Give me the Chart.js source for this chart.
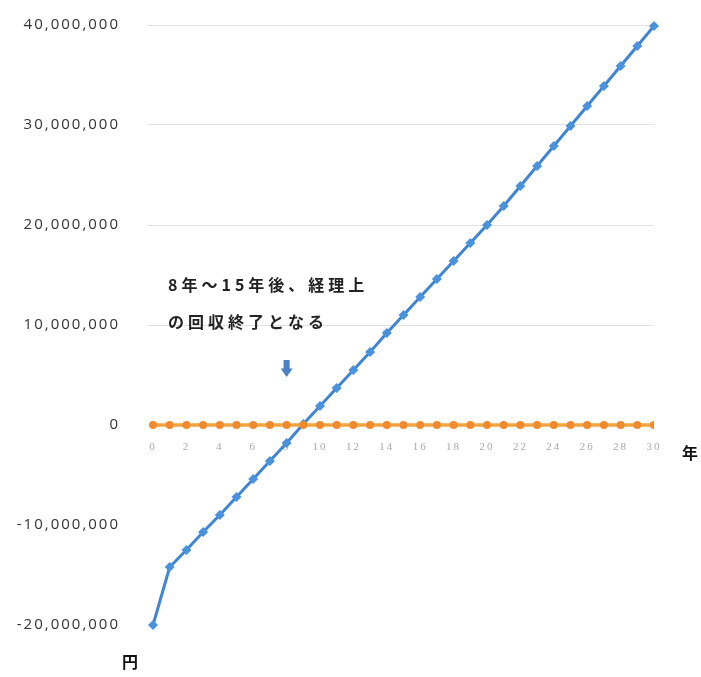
<!DOCTYPE html>
<html>
<head>
<meta charset="utf-8">
<script src="https://cdn.jsdelivr.net/npm/chart.js@4.4.1/dist/chart.umd.min.js"></script>
<style>
  html, body { margin: 0; padding: 0; background: #fff; }
  #wrap { width: 701px; height: 677px; position: relative; }
</style>
</head>
<body>
<div id="wrap"><canvas id="chart" width="701" height="677"></canvas></div>
<script>
const years = [0,1,2,3,4,5,6,7,8,9,10,11,12,13,14,15,16,17,18,19,20,21,22,23,24,25,26,27,28,29,30];
const cumulative = [
  -20000000, -14200000, -12500000, -10700000, -9000000, -7200000, -5400000, -3600000,
  -1800000, 100000, 1900000, 3700000, 5500000, 7300000, 9200000, 11000000,
  12800000, 14600000, 16400000, 18200000, 20000000, 21900000, 23900000, 25900000,
  27900000, 29900000, 31900000, 33900000, 35900000, 37900000, 39900000
];
const baseline = years.map(() => 0);
const xTickLabels = [0,2,4,6,8,10,12,14,16,18,20,22,24,26,28,30];
const yTickValues = [-20000000, -10000000, 0, 10000000, 20000000, 30000000, 40000000];
const noteLines = ['8年～15年後、経理上', 'の回収終了となる'];

const BLUE = '#3f85d3';
const ORANGE = '#f3a33f';

// wide letter spacing like the scanned original
const spacing = {
  id: 'spacing',
  beforeUpdate(chart) { chart.ctx.letterSpacing = '2px'; },
  beforeDraw(chart) { chart.ctx.letterSpacing = '2px'; }
};

const extraText = {
  id: 'extraText',
  afterDraw(chart) {
    const { ctx, scales } = chart;
    const x = scales.x, y = scales.y;
    ctx.save();
    // note text
    ctx.fillStyle = '#222';
    ctx.font = 'bold 16px "Noto Sans CJK JP"';
    ctx.letterSpacing = '4px';
    ctx.textAlign = 'left';
    ctx.textBaseline = 'middle';
    ctx.fillText(noteLines[0], x.getPixelForValue(0.9), y.getPixelForValue(14000000));
    ctx.fillText(noteLines[1], x.getPixelForValue(0.9), y.getPixelForValue(10300000));
    ctx.letterSpacing = '0px';
    // down arrow
    const ax = x.getPixelForValue(8);
    const top = y.getPixelForValue(6500000);
    const bot = y.getPixelForValue(4800000);
    ctx.fillStyle = '#4a7fc0';
    ctx.fillRect(ax - 3, top, 6, (bot - top) * 0.55);
    ctx.beginPath();
    ctx.moveTo(ax - 6, top + (bot - top) * 0.5);
    ctx.lineTo(ax + 6, top + (bot - top) * 0.5);
    ctx.lineTo(ax, bot);
    ctx.closePath();
    ctx.fill();
    // axis unit labels
    ctx.fillStyle = '#111';
    ctx.font = 'bold 16px "Noto Sans CJK JP"';
    ctx.textAlign = 'center';
    ctx.fillText('年', 690, y.getPixelForValue(0) + 28);
    ctx.fillText('円', 130, 662);
    ctx.restore();
  }
};

new Chart(document.getElementById('chart'), {
  type: 'line',
  data: {
    datasets: [
      {
        label: 'baseline',
        data: years.map((yr, i) => ({ x: yr, y: baseline[i] })),
        borderColor: ORANGE,
        backgroundColor: '#ef8a2e',
        borderWidth: 3.5,
        pointRadius: 4,
        pointBorderWidth: 0,
        tension: 0
      },
      {
        label: 'cumulative',
        data: years.map((yr, i) => ({ x: yr, y: cumulative[i] })),
        borderColor: BLUE,
        backgroundColor: '#4b92dd',
        borderWidth: 3,
        pointStyle: 'rectRot',
        pointRadius: 5,
        pointBorderWidth: 0,
        tension: 0,
        clip: false
      }
    ]
  },
  options: {
    responsive: false,
    animation: false,
    layout: { autoPadding: false, padding: { top: 25, bottom: 52, left: 0, right: 47 } },
    plugins: { legend: { display: false }, tooltip: { enabled: false } },
    scales: {
      x: {
        type: 'linear',
        min: -0.36,
        max: 30,
        position: { y: 0 },
        afterFit: s => { s.height = 0; },
        grid: { display: false, drawTicks: false },
        border: { display: false },
        afterBuildTicks: s => { s.ticks = xTickLabels.map(v => ({ value: v })); },
        ticks: {
          color: '#a8a8a8',
          font: { family: 'Liberation Serif', size: 11 },
          padding: 16,
          maxRotation: 0,
          autoSkip: false
        }
      },
      y: {
        min: -20000000,
        max: 40000000,
        afterFit: s => { s.width = 147; s.paddingTop = 0; s.paddingBottom = 0; },
        afterBuildTicks: s => { s.ticks = yTickValues.map(v => ({ value: v })); },
        grid: {
          drawTicks: false,
          color: c => (c.tick && c.tick.value > 0 ? '#e2e2e2' : 'rgba(0,0,0,0)'),
          lineWidth: 1
        },
        border: { display: false },
        ticks: {
          color: '#333',
          padding: 27,
          font: { family: 'Open Sans', size: 15 },
          callback: v => v.toLocaleString('en-US')
        }
      }
    }
  },
  plugins: [spacing, extraText]
});
</script>
</body>
</html>
